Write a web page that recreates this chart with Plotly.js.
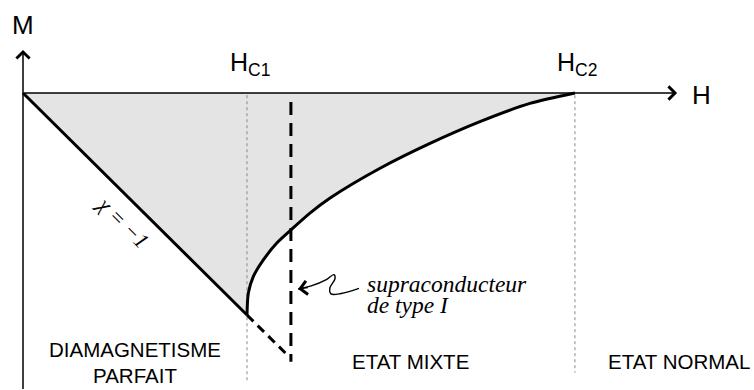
<!DOCTYPE html>
<html>
<head>
<meta charset="utf-8">
<script src="https://cdn.plot.ly/plotly-3.0.1.min.js"></script>
<style>
  html, body { margin: 0; padding: 0; background: #fff; }
  #myDiv { width: 754px; height: 390px; }
</style>
</head>
<body>
<div id="myDiv"></div>
<script>
// Champs critiques (unité : Hc1 = 1)
const HC1 = 1;
const HC2 = 2.464;
const HC_TYPE1 = 1.196;

// Diamagnétisme parfait : M = -H
const hDia = [0, HC1];
const mDia = [0, -1];

// Etat mixte : M(H) de Hc1 à Hc2
const hMixte = [1, 1.006, 1.028, 1.073, 1.133, 1.196, 1.281, 1.371, 1.594, 1.817, 2.040, 2.263, 2.464];
const mMixte = [-1, -0.901, -0.827, -0.752, -0.676, -0.617, -0.541, -0.473, -0.339, -0.227, -0.129, -0.047, 0];

// Supraconducteur de type I (pointillés)
const hType1Diag = [HC1, 1.18];
const mType1Diag = [-1, -1.18];
const hType1Vert = [HC_TYPE1, HC_TYPE1];
const mType1Vert = [-0.04, -1.21];

// Petite flèche ondulée vers la courbe de type I
const hSquiggle = [1.228, 1.290, 1.352, 1.388, 1.393, 1.370, 1.375, 1.420, 1.500];
const mSquiggle = [-0.883, -0.868, -0.842, -0.818, -0.836, -0.878, -0.905, -0.903, -0.880];

// Limites des axes dessinés
const hAxisEnd = 2.92;
const mAxisTop = 0.194;
const mAxisBottom = -1.34;
const mGuideBottom = [-1.30, -1.26];

const black = '#000';

const traces = [
    {   // zone grisée entre l'axe et la courbe
        x: [0].concat(hDia.slice(1), hMixte.slice(1), [0]),
        y: [0].concat(mDia.slice(1), mMixte.slice(1), [0]),
        type: 'scatter', mode: 'lines', fill: 'toself',
        fillcolor: '#e4e4e4', line: {width: 0}, hoverinfo: 'skip'
    },
    {   // repère Hc1
        x: [HC1, HC1], y: [-0.01, mGuideBottom[0]],
        type: 'scatter', mode: 'lines',
        line: {color: '#888', width: 1, dash: 'dot'}, hoverinfo: 'skip'
    },
    {   // repère Hc2
        x: [HC2, HC2], y: [-0.01, mGuideBottom[1]],
        type: 'scatter', mode: 'lines',
        line: {color: '#888', width: 1, dash: 'dot'}, hoverinfo: 'skip'
    },
    {
        x: hType1Diag, y: mType1Diag,
        type: 'scatter', mode: 'lines',
        line: {color: black, width: 3, dash: '9px,6px'}, hoverinfo: 'skip'
    },
    {
        x: hType1Vert, y: mType1Vert,
        type: 'scatter', mode: 'lines',
        line: {color: black, width: 3, dash: '13px,8px'}, hoverinfo: 'skip'
    },
    {
        x: hDia, y: mDia,
        type: 'scatter', mode: 'lines',
        line: {color: black, width: 3}, hoverinfo: 'skip'
    },
    {
        x: hMixte, y: mMixte,
        type: 'scatter', mode: 'lines',
        line: {color: black, width: 3, shape: 'spline', smoothing: 0.8}, hoverinfo: 'skip'
    },
    {
        x: hSquiggle, y: mSquiggle,
        type: 'scatter', mode: 'lines',
        line: {color: black, width: 1.4, shape: 'spline', smoothing: 1}, hoverinfo: 'skip'
    }
];

const sans = 'Liberation Sans, Arial, sans-serif';
const serif = 'Liberation Serif, Times New Roman, serif';

const arrow = (x, y, ax, ay, w, s) => ({
    x: x, y: y, ax: ax, ay: ay, xref: 'x', yref: 'y', axref: 'x', ayref: 'y',
    text: '', showarrow: true, arrowhead: 4, arrowwidth: w, arrowsize: s,
    arrowcolor: black, standoff: 0, startstandoff: 0
});

const label = (text, x, y, size, family, extra) => Object.assign({
    text: text, x: x, y: y, xref: 'x', yref: 'y', showarrow: false,
    font: {family: family, size: size, color: black}
}, extra || {});

const annotations = [
    arrow(hAxisEnd, 0, 0, 0, 1.5, 1.7),
    arrow(0, mAxisTop, 0, mAxisBottom, 1.5, 1.7),
    arrow(hSquiggle[0], mSquiggle[0], hSquiggle[0] + 0.05, mSquiggle[0] + 0.008, 1.4, 1.9),
    label('M', 0, 0.306, 26, sans),
    label('H', 3.03, -0.01, 26, sans),
    label('H<sub>C1</sub>', 1.013, 0.13, 25, sans),
    label('H<sub>C2</sub>', 2.473, 0.13, 25, sans),
    label('<i>χ = −1</i>', 0.442, -0.581, 22, serif, {textangle: 45}),
    label('<i>supraconducteur</i>', 1.527, -0.86, 23.5, serif, {xanchor: 'left'}),
    label('<i>de type I</i>', 1.527, -0.955, 23.5, serif, {xanchor: 'left'}),
    label('DIAMAGNETISME', 0.5, -1.155, 20.5, sans),
    label('PARFAIT', 0.5, -1.274, 20.5, sans),
    label('ETAT MIXTE', 1.728, -1.21, 20.5, sans),
    label('ETAT NORMAL', 3.254, -1.21, 20.5, sans, {xanchor: 'right'})
];

const layout = {
    width: 754, height: 390,
    margin: {l: 0, r: 0, t: 0, b: 0},
    paper_bgcolor: '#fff', plot_bgcolor: '#fff',
    showlegend: false,
    xaxis: {range: [-0.1027, 3.2634], visible: false},
    yaxis: {range: [-1.3378, 0.4189], visible: false},
    annotations: annotations
};

Plotly.newPlot('myDiv', traces, layout, {displayModeBar: false, staticPlot: true});
</script>
</body>
</html>
